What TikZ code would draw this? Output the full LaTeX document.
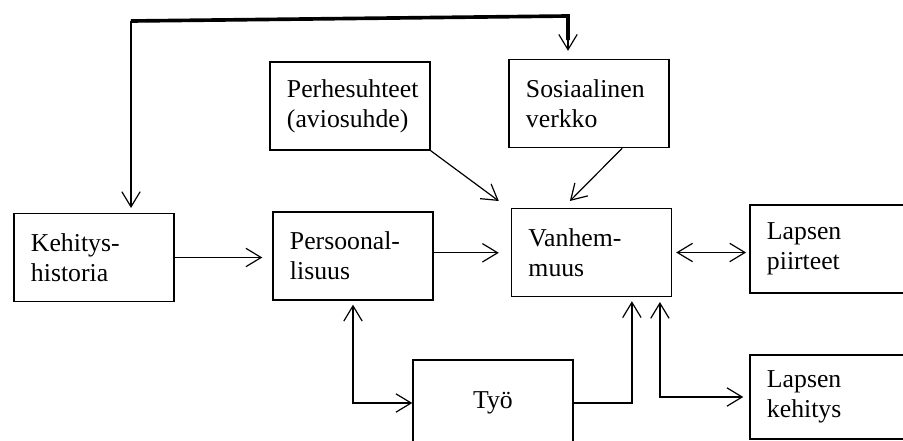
\documentclass[tikz,border=0pt]{standalone}
\usepackage{fontspec}
\setmainfont{Liberation Serif}
\usetikzlibrary{arrows.meta,positioning}
\newcommand\boxw{4cm}
\newcommand\boxh{2.2cm}
\tikzset{box/.style={rectangle,draw=black,line width=1pt,minimum width=\boxw,minimum height=\boxh,text width=3.15cm,align=left,inner sep=0pt,font=\fontsize{18.3}{21.3}\selectfont}}
\tikzset{arr/.style={-{Straight Barb[length=3.8mm,width=4.6mm]},line width=0.85pt}}
\tikzset{both/.style={{Straight Barb[length=3.8mm,width=4.6mm]}-{Straight Barb[length=3.8mm,width=4.6mm]},line width=0.85pt}}
\begin{document}
\begin{tikzpicture}[x=0.025cm,y=-0.025cm]
                \useasboundingbox (0,0) rectangle (903,441);
                % boxes
                \node[box] (perhe) at (350,106) {Perhesuhteet\\(aviosuhde)};
                \node[box] (sosiaal) at (589,103.5) {Sosiaalinen\\verkko};
                \node[box] (kehitys) at (94,257.5) {Kehitys-\\historia};
                \node[box] (persoon) at (353,256) {Persoonal-\\lisuus};
                \node[box] (vanhem) at (591.5,252.5) {Vanhem-\\muus};
                \node[box] (piirteet) at (830,249) {Lapsen\\piirteet};
                \node[box,minimum height=2.1cm] (lkeh) at (830,397) {Lapsen\\kehitys};
                \node[box,align=center,minimum height=2.15cm] (tyo) at (493,403) {Työ\\[0.3cm]};

                % thick line on top
                \coordinate (topL) at (131,21);
                \coordinate (topR) at (568,16);
                \draw[line width=2.6pt] (topL) -- (topR) -- ++(0,24);
                \draw[arr,shorten >=0.12cm] (topL) -- (topL |- kehitys.north);
                \draw[arr,shorten >=0.2cm] (topR) -- (topR |- sosiaal.north);

                % arrows
                \draw[arr,shorten >=0.25cm] (kehitys.east) -- (kehitys.east -| persoon.west);
                \draw[arr,shorten >=0.3cm] ([yshift=0.08cm]persoon.east) -- ([yshift=0.08cm]persoon.east -| vanhem.west);
                \draw[both,shorten <=0.1cm,shorten >=0.08cm] (vanhem.east) -- (vanhem.east -| piirteet.west);
                \draw[arr] (perhe.south east) -- ([xshift=-0.3cm,yshift=0.17cm]vanhem.north west);
                \draw[arr] ([xshift=0.83cm]sosiaal.south) -- ([xshift=-0.54cm,yshift=0.17cm]vanhem.north);
                \draw[both,shorten <=0.1cm] (persoon.south) |- (tyo.west);
                \draw[arr,shorten >=0.1cm] (tyo.east) -| ([xshift=1.01cm]vanhem.south);
                \draw[both,shorten <=0.12cm,shorten >=0.15cm] ([xshift=1.71cm]vanhem.south) |- (lkeh.west);
\end{tikzpicture}
\end{document}
